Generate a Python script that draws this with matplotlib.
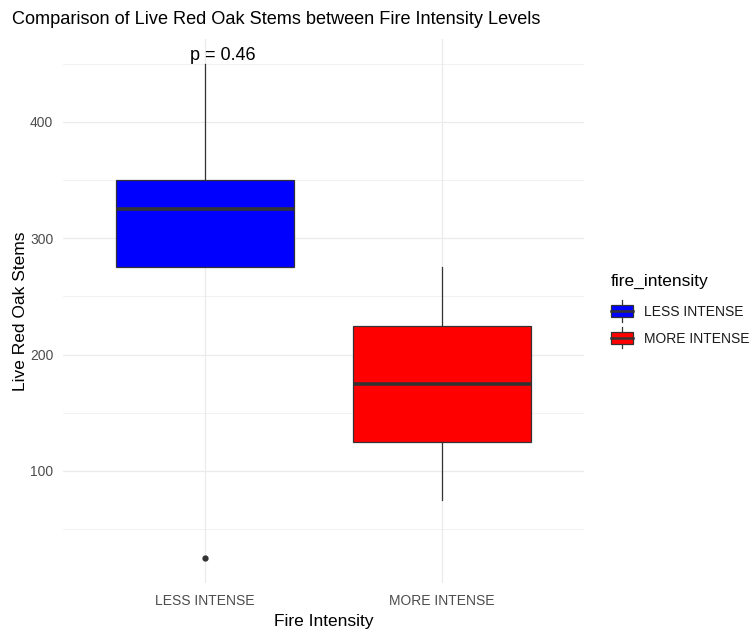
import matplotlib
matplotlib.use("Agg")
import matplotlib.pyplot as plt
from matplotlib.legend_handler import HandlerBase
from matplotlib.patches import Patch, Rectangle
from matplotlib.lines import Line2D

plt.rcParams["font.family"] = ["Liberation Sans", "DejaVu Sans"]

# --- data ---
categories = ["LESS INTENSE", "MORE INTENSE"]
colors = ["#0000FF", "#FF0000"]
q1 = [275, 125]
median = [325, 175]
q3 = [350, 225]
whisker_lo = [275, 75]
whisker_hi = [450, 275]
outliers = [[25], []]
p_label = "p = 0.46"
y_ticks = [100, 200, 300, 400]
y_minor = [50, 150, 250, 350, 450]

edge = "#333333"


class BoxKeyHandler(HandlerBase):
    # mini boxplot glyph like ggplot's legend key
    def create_artists(self, legend, orig_handle, xdescent, ydescent,
                       width, height, fontsize, trans):
        cx = width / 2 - xdescent
        top = height - ydescent + 3.5
        bot = -ydescent - 3
        whisk = Line2D([cx, cx], [bot, top], color=edge, lw=0.9, transform=trans)
        box = Rectangle((-xdescent, -ydescent), width, height,
                        facecolor=orig_handle.get_facecolor(), edgecolor=edge,
                        lw=0.9, transform=trans)
        med = Line2D([-xdescent, width - xdescent],
                     [height / 2 - ydescent] * 2, color=edge, lw=1.8,
                     transform=trans)
        return [whisk, box, med]


fig = plt.figure(figsize=(7.53, 6.3), dpi=100)
ax = fig.add_axes([63 / 753, 47 / 630, 521 / 753, 544 / 630])

stats = []
for i, lab in enumerate(categories):
    stats.append({"label": lab, "q1": q1[i], "med": median[i], "q3": q3[i],
                  "whislo": whisker_lo[i], "whishi": whisker_hi[i],
                  "fliers": outliers[i]})

bp = ax.bxp(stats, positions=[1, 2], widths=0.75, patch_artist=True,
            showcaps=False, manage_ticks=False,
            boxprops=dict(edgecolor=edge, linewidth=0.9),
            whiskerprops=dict(color=edge, linewidth=0.9),
            medianprops=dict(color=edge, linewidth=2.6),
            flierprops=dict(marker="o", markerfacecolor=edge, markeredgecolor=edge,
                            markersize=3.5))
for patch, c in zip(bp["boxes"], colors):
    patch.set_facecolor(c)
    patch.set_zorder(2)

ax.set_xlim(0.4, 2.6)
lo = min(min(whisker_lo), min(min(o) for o in outliers if o))
hi = max(whisker_hi)
pad = (hi - lo) * 0.05
ax.set_ylim(lo - pad, hi + pad)

ax.set_xticks([1, 2])
ax.set_xticklabels(categories)
ax.set_yticks(y_ticks)
ax.set_yticks(y_minor, minor=True)
ax.tick_params(axis="both", which="both", length=0, labelsize=10,
               labelcolor="#4D4D4D")
ax.tick_params(axis="y", pad=7)
ax.tick_params(axis="x", pad=8)
ax.grid(True, which="major", color="#EBEBEB", linewidth=0.9)
ax.grid(True, which="minor", axis="y", color="#EBEBEB", linewidth=0.5)
ax.set_axisbelow(True)
for s in ax.spines.values():
    s.set_visible(False)

ax.set_xlabel("Fire Intensity", fontsize=12.5, labelpad=4)
ax.set_ylabel("Live Red Oak Stems", fontsize=12.5, labelpad=1.5)
ax.text(0.935, whisker_hi[0], p_label, fontsize=13, ha="left", va="bottom")

fig.text(12 / 753, 1 - 20 / 630, "Comparison of Live Red Oak Stems between Fire Intensity Levels",
         fontsize=13.1, ha="left", va="center")

# legend: title as separate text so the gap to the keys can be set
fig.text(611 / 753, 1 - 281 / 630, "fire_intensity", fontsize=12.5,
         ha="left", va="center")
handles = [Patch(facecolor=c) for c in colors]
leg = fig.legend(handles, categories,
                 loc="upper left", bbox_to_anchor=(611 / 753, 1 - 305 / 630),
                 frameon=False, fontsize=10,
                 handler_map={Patch: BoxKeyHandler()},
                 handlelength=1.58, handleheight=1.0, handletextpad=0.8,
                 labelspacing=0.9, borderaxespad=0, borderpad=0)
for t in leg.get_texts():
    t.set_color("#1A1A1A")

fig.savefig("out.png", dpi=100, facecolor="white")
